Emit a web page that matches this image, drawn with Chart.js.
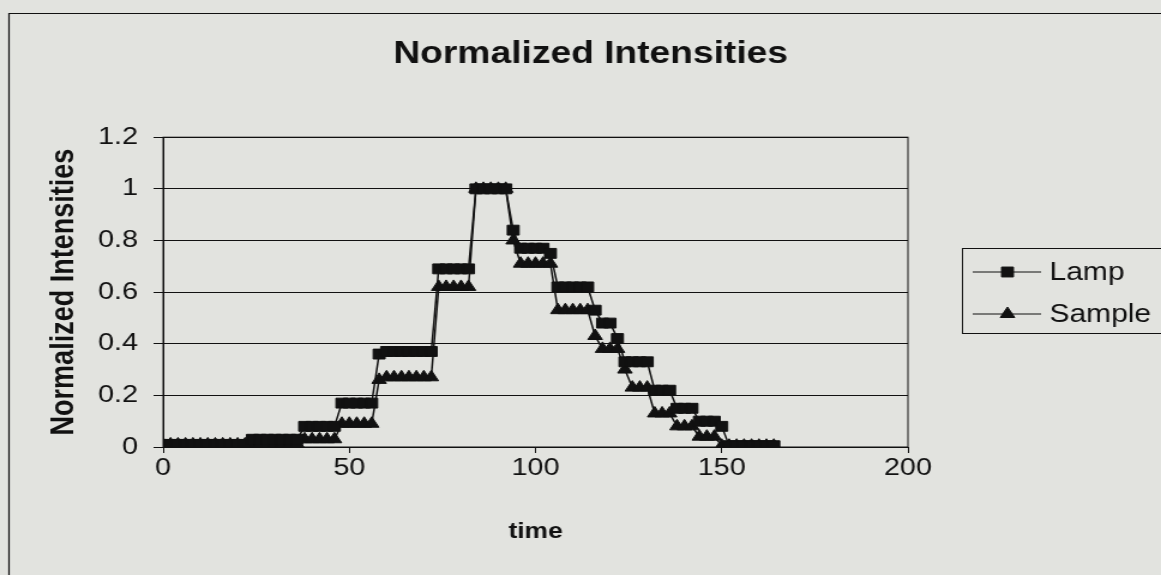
<!DOCTYPE html>
<html>
<head>
<meta charset="utf-8">
<script src="https://cdn.jsdelivr.net/npm/chart.js@4.4.1/dist/chart.umd.min.js"></script>
<style>
  html, body { margin: 0; padding: 0; background: #e2e3df; overflow: hidden; }
</style>
</head>
<body>
<!-- the scan is stretched sideways, so the canvas is drawn narrow and widened by css -->
<canvas id="chart" width="968" height="575" style="width:1161px;height:575px;display:block"></canvas>
<script>
const time = [
  0, 2, 4, 6, 8, 10, 12, 14, 16, 18, 20, 22, 24, 26, 28, 30, 32, 34, 36, 38,
  40, 42, 44, 46, 48, 50, 52, 54, 56, 58, 60, 62, 64, 66, 68, 70, 72, 74, 76, 78,
  80, 82, 84, 86, 88, 90, 92, 94, 96, 98, 100, 102, 104, 106, 108, 110, 112, 114, 116, 118,
  120, 122, 124, 126, 128, 130, 132, 134, 136, 138, 140, 142, 144, 146, 148, 150, 152, 154, 156, 158,
  160, 162, 164
];
const lamp = [
  0.01, 0.01, 0.01, 0.01, 0.01, 0.01, 0.01, 0.01, 0.01, 0.01, 0.01, 0.01, 0.03, 0.03, 0.03, 0.03, 0.03, 0.03, 0.03, 0.08,
  0.08, 0.08, 0.08, 0.08, 0.17, 0.17, 0.17, 0.17, 0.17, 0.36, 0.37, 0.37, 0.37, 0.37, 0.37, 0.37, 0.37, 0.69, 0.69, 0.69,
  0.69, 0.69, 1.0, 1.0, 1.0, 1.0, 1.0, 0.84, 0.77, 0.77, 0.77, 0.77, 0.75, 0.62, 0.62, 0.62, 0.62, 0.62, 0.53, 0.48,
  0.48, 0.42, 0.33, 0.33, 0.33, 0.33, 0.22, 0.22, 0.22, 0.15, 0.15, 0.15, 0.10, 0.10, 0.10, 0.08, 0.005, 0.005, 0.005, 0.005,
  0.005, 0.005, 0.005
];
const sample = [
  0.01, 0.01, 0.01, 0.01, 0.01, 0.01, 0.01, 0.01, 0.01, 0.01, 0.01, 0.01, 0.01, 0.01, 0.01, 0.01, 0.01, 0.01, 0.01, 0.03,
  0.03, 0.03, 0.03, 0.03, 0.09, 0.09, 0.09, 0.09, 0.09, 0.26, 0.27, 0.27, 0.27, 0.27, 0.27, 0.27, 0.27, 0.62, 0.62, 0.62,
  0.62, 0.62, 1.0, 1.0, 1.0, 1.0, 1.0, 0.80, 0.71, 0.71, 0.71, 0.71, 0.71, 0.53, 0.53, 0.53, 0.53, 0.53, 0.43, 0.38,
  0.38, 0.38, 0.30, 0.23, 0.23, 0.23, 0.13, 0.13, 0.13, 0.08, 0.08, 0.08, 0.04, 0.04, 0.04, 0.005, 0.005, 0.005, 0.005, 0.005,
  0.005, 0.005, 0.005
];
const seriesNames = ['Lamp', 'Sample'];
const xTicks = [0, 50, 100, 150, 200];
const yTicks = [0, 0.2, 0.4, 0.6, 0.8, 1, 1.2];

const ink = '#111111';
const bg = '#e2e3df';
const font = 'Liberation Sans, Arial, Helvetica, sans-serif';

// page background, outer frame and the box round the plot
const framePlugin = {
  id: 'frame',
  beforeDraw(chart) {
    const ctx = chart.ctx;
    ctx.save();
    ctx.fillStyle = bg;
    ctx.fillRect(0, 0, chart.width, chart.height);
    ctx.strokeStyle = ink;
    ctx.lineWidth = 1.2;
    ctx.beginPath();
    ctx.moveTo(7.5, chart.height);
    ctx.lineTo(7.5, 13.5);
    ctx.lineTo(chart.width, 13.5);
    ctx.stroke();
    ctx.restore();
  },
  beforeDatasetsDraw(chart) {
    const a = chart.chartArea;
    const ctx = chart.ctx;
    ctx.save();
    ctx.strokeStyle = ink;
    ctx.lineWidth = 1;
    ctx.strokeRect(a.left, a.top, a.right - a.left, a.bottom - a.top);
    ctx.restore();
  }
};

// excel style legend: line with marker, boxed, on the right
const legendPlugin = {
  id: 'boxLegend',
  afterDraw(chart) {
    const ctx = chart.ctx;
    ctx.save();
    ctx.strokeStyle = ink;
    ctx.lineWidth = 1;
    ctx.strokeRect(802.5, 248.5, 200, 85);
    chart.data.datasets.forEach((ds, i) => {
      const y = 272 + i * 42;
      ctx.strokeStyle = ink;
      ctx.lineWidth = 1;
      ctx.beginPath();
      ctx.moveTo(811, y);
      ctx.lineTo(868, y);
      ctx.stroke();
      ctx.fillStyle = ink;
      Chart.helpers.drawPoint(ctx, {pointStyle: ds.pointStyle, radius: 7, rotation: 0, borderWidth: 1}, 840, y);
      ctx.fillStyle = ink;
      ctx.font = '25px ' + font;
      ctx.textAlign = 'left';
      ctx.textBaseline = 'middle';
      ctx.fillText(ds.label, 875, y + 1);
    });
    ctx.restore();
  }
};

const ctx = document.getElementById('chart').getContext('2d');

new Chart(ctx, {
  type: 'line',
  data: {
    datasets: [
      {
        label: seriesNames[0],
        data: time.map((t, i) => ({x: t, y: lamp[i]})),
        borderColor: ink,
        backgroundColor: ink,
        borderWidth: 1.5,
        pointStyle: 'rect',
        pointRadius: 7,
        pointBorderWidth: 1,
        tension: 0
      },
      {
        label: seriesNames[1],
        data: time.map((t, i) => ({x: t, y: sample[i]})),
        borderColor: ink,
        backgroundColor: ink,
        borderWidth: 1.5,
        pointStyle: 'triangle',
        pointRadius: 7,
        pointBorderWidth: 1,
        tension: 0
      }
    ]
  },
  options: {
    responsive: false,
    animation: false,
    layout: { padding: { left: 17, top: 0, right: 0, bottom: 0 } },
    scales: {
      x: {
        type: 'linear',
        min: 0,
        max: 200,
        afterBuildTicks: s => { s.ticks = xTicks.map(v => ({value: v})); },
        afterFit: s => { s.height = 128; },
        grid: { drawOnChartArea: false, drawTicks: true, tickLength: 6, color: ink, lineWidth: 1 },
        border: { color: ink, width: 1 },
        ticks: { color: ink, padding: 1, font: { family: font, size: 24 } },
        title: {
          display: true,
          text: 'time',
          color: ink,
          font: { family: font, size: 22, weight: 'bold' },
          padding: { top: 0, bottom: 30 }
        }
      },
      y: {
        min: 0,
        max: 1.2,
        afterBuildTicks: s => { s.ticks = yTicks.map(v => ({value: v})); },
        afterFit: s => { s.width = 119; },
        grid: { drawOnChartArea: true, drawTicks: true, tickLength: 8, color: ink, lineWidth: 1 },
        border: { color: ink, width: 1 },
        ticks: {
          color: ink,
          padding: 13,
          font: { family: font, size: 24 },
          callback: v => String(Math.round(v * 10) / 10)
        },
        title: {
          display: true,
          text: 'Normalized Intensities',
          color: ink,
          font: { family: font, size: 27, weight: 'bold' },
          padding: { top: 20, bottom: 0 }
        }
      },
      // empty axis that keeps room on the right for the legend
      spacer: {
        type: 'linear',
        position: 'right',
        afterFit: s => { s.width = 211; },
        grid: { display: false },
        border: { display: false },
        ticks: { display: false }
      }
    },
    plugins: {
      legend: { display: false },
      tooltip: { enabled: false },
      title: {
        display: true,
        text: 'Normalized Intensities',
        color: ink,
        font: { family: font, size: 31, weight: 'bold' },
        padding: { top: 36, bottom: 64 }
      }
    }
  },
  plugins: [framePlugin, legendPlugin]
});
</script>
</body>
</html>
